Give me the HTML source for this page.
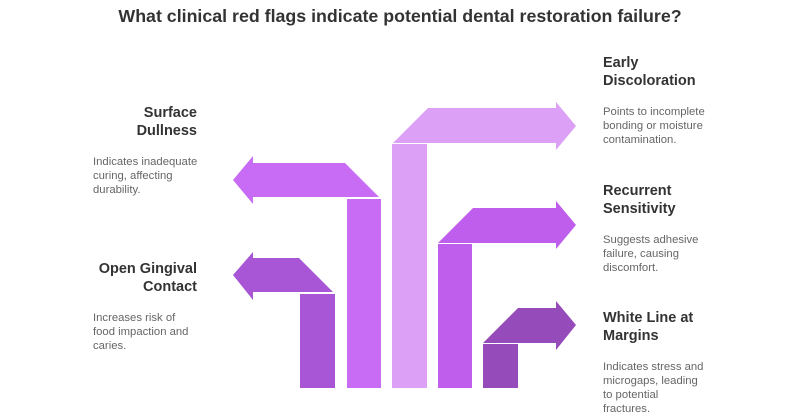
<!DOCTYPE html>
<html><head><meta charset="utf-8"><style>
body{margin:0;width:800px;height:420px;background:#fff;font-family:"Liberation Sans",sans-serif;position:relative;overflow:hidden}
.t{position:absolute;top:6px;left:0;width:800px;text-align:center;font-size:17.8px;font-weight:bold;color:#333}
.b{position:absolute;font-size:14.5px;font-weight:bold;color:#333;line-height:18px}
.d{position:absolute;font-size:11.3px;color:#666;line-height:14px}
.r{text-align:right}
</style></head><body>
<div class="t">What clinical red flags indicate potential dental restoration failure?</div>
<svg width="800" height="420" style="position:absolute;left:0;top:0">
<g fill="#a855d6"><rect x="300" y="294" width="35" height="94"/><polygon points="233,275 253,252 253,258 299,258 333,292 253,292 253,300"/></g>
<g fill="#c86cf6"><rect x="347" y="199" width="34" height="189"/><polygon points="233,180 253,156 253,163 345,163 379,197 253,197 253,204"/></g>
<g fill="#dca0f7"><rect x="392" y="144" width="35" height="244"/><polygon points="393,143 428,108 556,108 556,102 576,126 556,150 556,143"/></g>
<g fill="#bf5eec"><rect x="438" y="244" width="34" height="144"/><polygon points="438,243 473,208 556,208 556,201 576,225 556,249 556,243"/></g>
<g fill="#964bbb"><rect x="483" y="344" width="35" height="44"/><polygon points="483,343 518,308 556,308 556,301 576,325 556,350 556,343"/></g>
</svg>
<div class="b" style="left:603px;top:54px">Early<br>Discoloration</div>
<div class="d" style="left:603px;top:105px">Points to incomplete<br>bonding or moisture<br>contamination.</div>
<div class="b" style="left:603px;top:182px">Recurrent<br>Sensitivity</div>
<div class="d" style="left:603px;top:233px">Suggests adhesive<br>failure, causing<br>discomfort.</div>
<div class="b" style="left:603px;top:309px">White Line at<br>Margins</div>
<div class="d" style="left:603px;top:360px">Indicates stress and<br>microgaps, leading<br>to potential<br>fractures.</div>
<div class="b r" style="right:603px;top:104px">Surface<br>Dullness</div>
<div class="d" style="left:93px;top:155px">Indicates inadequate<br>curing, affecting<br>durability.</div>
<div class="b r" style="right:603px;top:260px">Open Gingival<br>Contact</div>
<div class="d" style="left:93px;top:311px">Increases risk of<br>food impaction and<br>caries.</div>
</body></html>
